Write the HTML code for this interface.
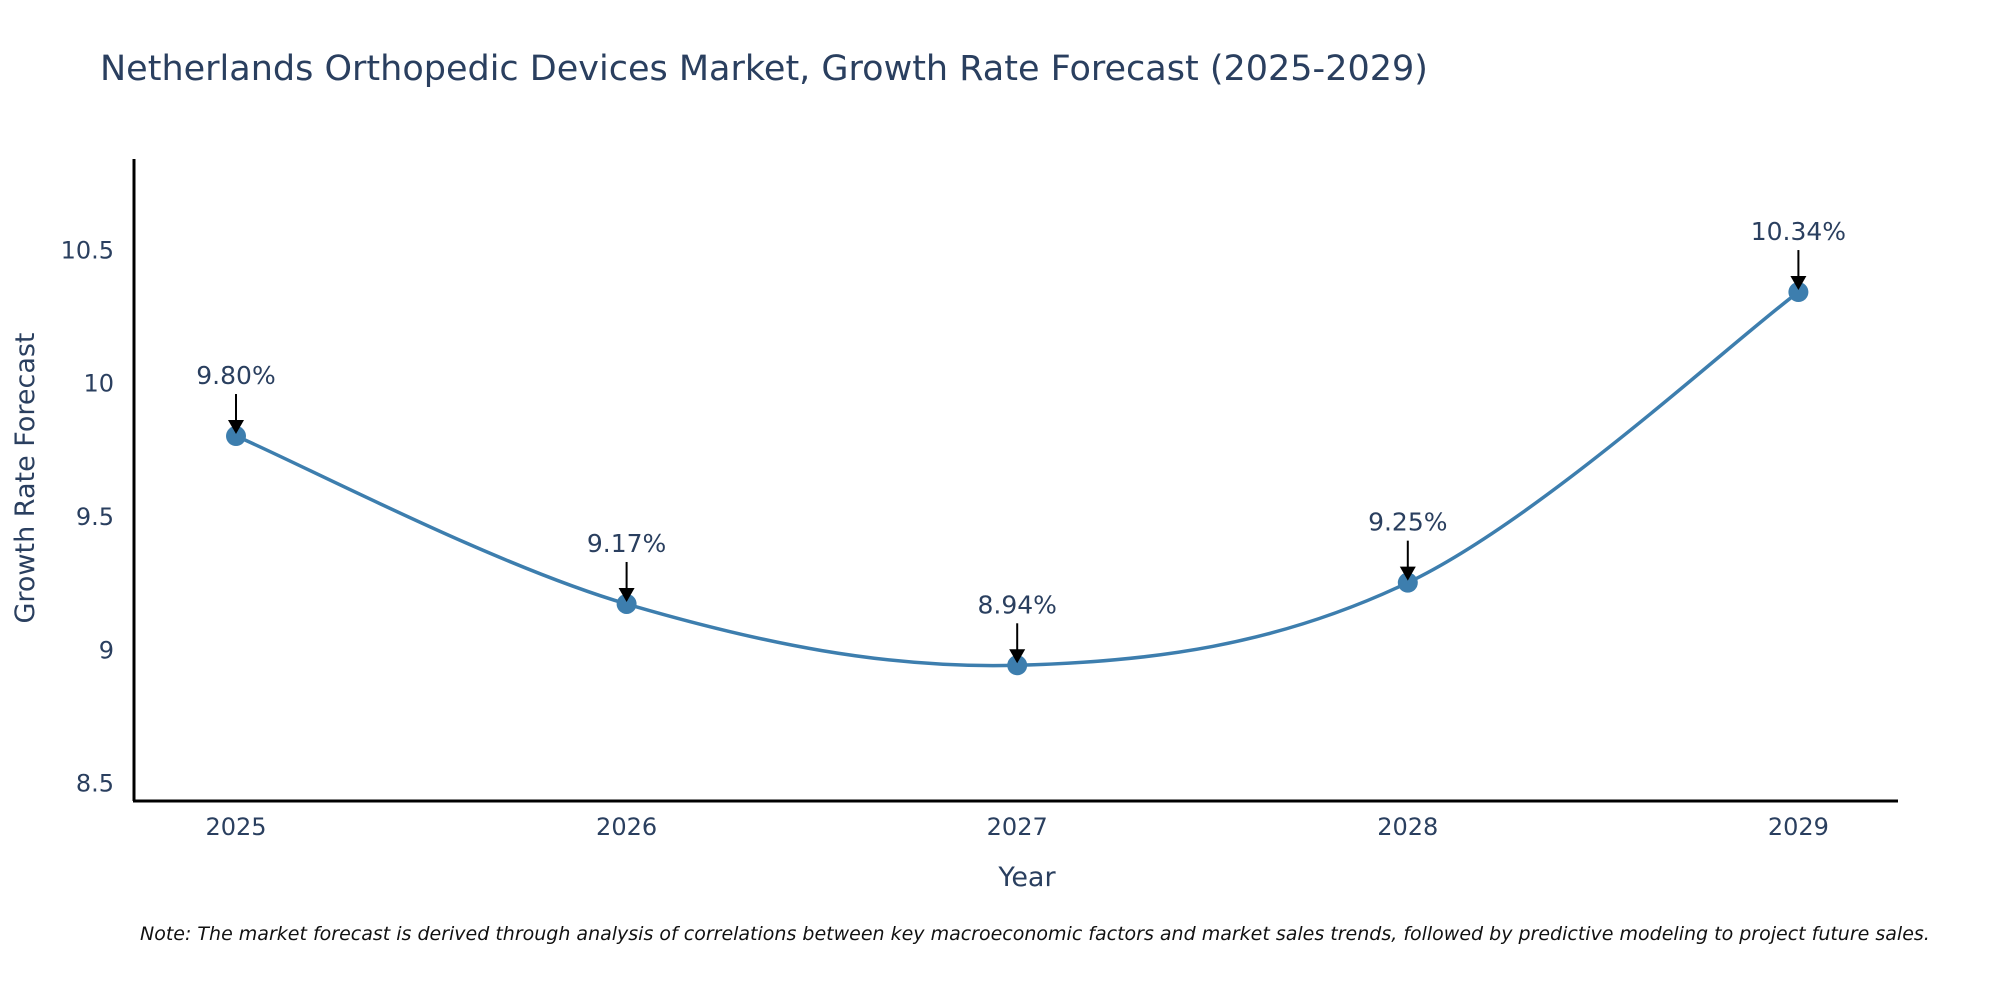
<!DOCTYPE html>
<html><head><meta charset="utf-8"><style>
body{margin:0;background:#fff}
svg{display:block;font-family:"DejaVu Sans","Liberation Sans",sans-serif}
</style></head><body>
<svg id="chart" width="2000" height="1000" viewBox="0 0 2000 1000">
<text x="100" y="80" font-size="35" fill="#2a3f5f">Netherlands Orthopedic Devices Market, Growth Rate Forecast (2025-2029)</text>
<g id="yticks"></g><g id="xticks"></g>
<line x1="134" y1="159" x2="134" y2="801" stroke="#000" stroke-width="3"/>
<line x1="133" y1="801" x2="1898" y2="801" stroke="#000" stroke-width="3"/>
<path id="line" fill="none" stroke="#3d7eae" stroke-width="3.5"/>
<g id="marks"></g>
<text transform="translate(34,478) rotate(-90)" text-anchor="middle" font-size="27" fill="#2a3f5f">Growth Rate Forecast</text>
<text x="1027" y="886" text-anchor="middle" font-size="27" fill="#2a3f5f">Year</text>
<text x="140" y="940" font-size="19" font-style="italic" fill="#111">Note: The market forecast is derived through analysis of correlations between key macroeconomic factors and market sales trends, followed by predictive modeling to project future sales.</text>
</svg>
<script>
const years=[2025,2026,2027,2028,2029];
const values=[9.80,9.17,8.94,9.25,10.34];
const labels=["9.80%","9.17%","8.94%","9.25%","10.34%"];
const yTicks=[8.5,9,9.5,10,10.5];
const yTickLabels=["8.5","9","9.5","10","10.5"];
const NS="http://www.w3.org/2000/svg";
function X(v){return 236+(v-2025)*390.6;}
function Y(v){return 382.7-(v-10)*266.6;}
function el(t,a,p){const e=document.createElementNS(NS,t);for(const k in a)e.setAttribute(k,a[k]);p.appendChild(e);return e;}
const yt=document.getElementById('yticks');
yTicks.forEach((v,i)=>{const t=el('text',{x:114,y:Y(v)+9,'text-anchor':'end','font-size':24,fill:'#2a3f5f'},yt);t.textContent=yTickLabels[i];

});
const xt=document.getElementById('xticks');
years.forEach(y=>{const t=el('text',{x:X(y),y:835,'text-anchor':'middle','font-size':24,fill:'#2a3f5f'},xt);t.textContent=y;

});
const pts=years.map((y,i)=>[X(y),Y(values[i])]);
let d='M'+pts[0][0]+','+pts[0][1];
const k=0.17;
for(let i=0;i<pts.length-1;i++){const p0=pts[Math.max(0,i-1)],p1=pts[i],p2=pts[i+1],p3=pts[Math.min(pts.length-1,i+2)];
const c1=[p1[0]+(p2[0]-p0[0])*k,p1[1]+(p2[1]-p0[1])*k],c2=[p2[0]-(p3[0]-p1[0])*k,p2[1]-(p3[1]-p1[1])*k];
d+=' C'+c1+' '+c2+' '+p2;}
document.getElementById('line').setAttribute('d',d);
const m=document.getElementById('marks');
pts.forEach((p,i)=>{const c=el('circle',{cx:p[0],cy:p[1],r:10,fill:'#3d7eae'},m);


const a=el('line',{x1:p[0],y1:p[1]-42,x2:p[0],y2:p[1]-14,stroke:'#000','stroke-width':2},m);


const h=el('polygon',{points:(p[0]-8)+','+(p[1]-16)+' '+(p[0]+8)+','+(p[1]-16)+' '+p[0]+','+(p[1]-2),fill:'#000'},m);


const t=el('text',{x:p[0],y:p[1]-52,'text-anchor':'middle','font-size':25,fill:'#2a3f5f'},m);t.textContent=labels[i];

});
</script>
</body></html>
